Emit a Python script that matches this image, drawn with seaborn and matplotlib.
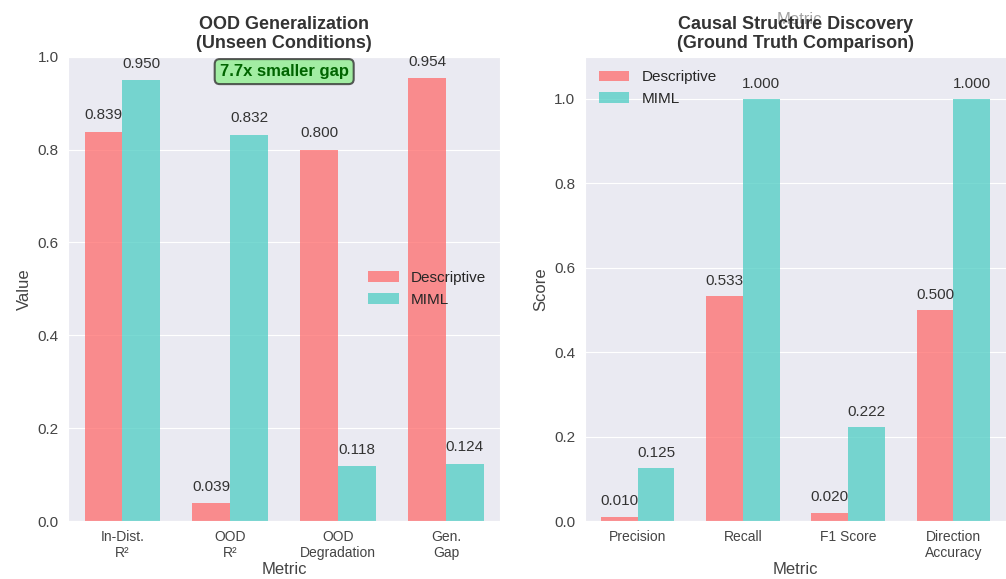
import numpy as np
import pandas as pd
import matplotlib
matplotlib.use("Agg")
import matplotlib.pyplot as plt
import seaborn as sns

# -------------------------------------------------------
# Data
# -------------------------------------------------------
methods = ["Descriptive", "MIML"]
palette = {"Descriptive": "#FF6B6B", "MIML": "#4ECDC4"}

ood_metrics = ["In-Dist.\nR²", "OOD\nR²", "OOD\nDegradation", "Gen.\nGap"]
ood_descriptive = [0.839, 0.039, 0.800, 0.954]
ood_miml = [0.950, 0.832, 0.118, 0.124]
gap_note = "7.7x smaller gap"

causal_metrics = ["Precision", "Recall", "F1 Score", "Direction\nAccuracy"]
causal_descriptive = [0.010, 0.533, 0.020, 0.500]
causal_miml = [0.125, 1.000, 0.222, 1.000]


def to_long(metrics, desc, miml):
    return pd.DataFrame({
        "Metric": metrics * 2,
        "Value": desc + miml,
        "Method": ["Descriptive"] * len(metrics) + ["MIML"] * len(metrics),
    })


# -------------------------------------------------------
# Style
# -------------------------------------------------------
sns.set_style("darkgrid")
plt.rcParams["font.family"] = ["Liberation Sans", "DejaVu Sans"]

fig = plt.figure(figsize=(10.06, 5.79), dpi=100)
ax1 = fig.add_axes([0.068, 0.10, 0.429, 0.802])
ax2 = fig.add_axes([0.5815, 0.10, 0.4185, 0.802])


def draw(ax, metrics, desc, miml, ylabel, title, ylim, legend_loc):
    df = to_long(metrics, desc, miml)
    sns.barplot(data=df, x="Metric", y="Value", hue="Method", order=metrics,
                hue_order=methods, palette=palette, alpha=0.75, width=0.7,
                saturation=1, linewidth=0, ax=ax)
    for cont in ax.containers:
        for bar in cont:
            h = bar.get_height()
            ax.text(bar.get_x() + bar.get_width() / 2, h + 0.02, f"{h:.3f}",
                    ha="center", va="bottom", fontsize=11, color="#333333")
    ax.set_ylim(*ylim)
    ax.set_yticks(np.arange(0, 1.01, 0.2))
    ax.tick_params(axis="y", labelsize=11, colors="#444444")
    ax.tick_params(axis="x", labelsize=10, colors="#444444", pad=3)
    ax.set_xlabel("Metric", fontsize=12, color="#444444", labelpad=1)
    ax.set_ylabel(ylabel, fontsize=12, color="#444444")
    ax.set_title(title, fontsize=13, fontweight="bold", color="#333333")
    ax.legend(loc=legend_loc, frameon=False, fontsize=11)


draw(ax1, ood_metrics, ood_descriptive, ood_miml, "Value",
     "OOD Generalization\n(Unseen Conditions)", (0, 1.0), "center right")
ax1.text(0.5, 0.968, gap_note, transform=ax1.transAxes, ha="center",
         va="center", fontsize=12, fontweight="bold", color="darkgreen",
         bbox=dict(boxstyle="round", facecolor="lightgreen", alpha=0.8,
                   edgecolor="#333333", linewidth=1.5))

draw(ax2, causal_metrics, causal_descriptive, causal_miml, "Score",
     "Causal Structure Discovery\n(Ground Truth Comparison)", (0, 1.1),
     "upper left")

# leftover label ghosting over the right title
ax2.text(0.51, 1.08, "Metric", transform=ax2.transAxes, ha="center",
         va="center", fontsize=12, color="#666666", alpha=0.6)

plt.savefig("out.png", dpi=100)
